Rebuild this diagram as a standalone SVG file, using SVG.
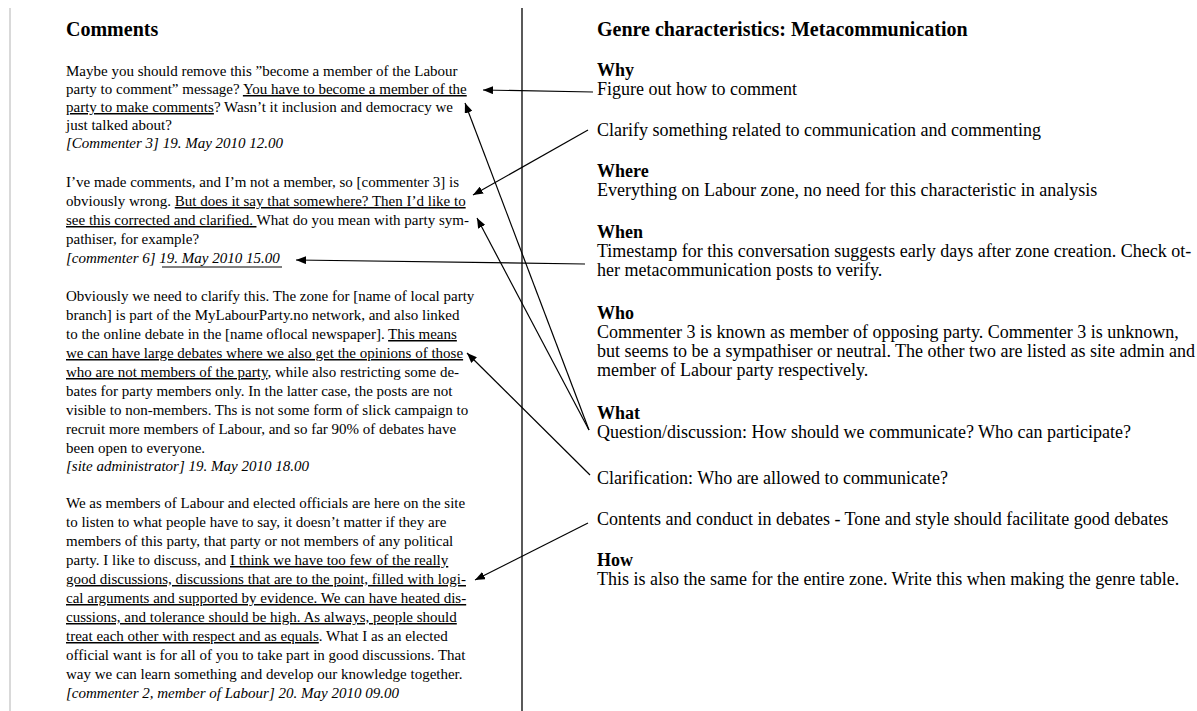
<svg xmlns="http://www.w3.org/2000/svg" width="1197" height="711" viewBox="0 0 1197 711">
  <style>
    text { font-family: "Liberation Serif", "Times New Roman", serif; fill: #000; }
    .h { font-size: 20px; font-weight: bold; }
    .c { font-size: 15px; }
    .ci { font-size: 15px; font-style: italic; }
    .r { font-size: 18px; }
    .rb { font-size: 18px; font-weight: bold; }
    .u { text-decoration: underline; }
    .conn { stroke: #000; stroke-width: 1.2; fill: none; marker-end: url(#tip); }
  </style>
  <defs>
    <marker id="tip" markerUnits="userSpaceOnUse" markerWidth="11" markerHeight="8" refX="10" refY="4" orient="auto">
      <path d="M0,0 L10,4 L0,8 Z" fill="#000"/>
    </marker>
  </defs>
  <rect width="1197" height="711" fill="#fff"/>

  <!-- page rules -->
  <g id="rules">
    <line x1="10" y1="8" x2="10" y2="711" stroke="#c0c0c0" stroke-width="1.2"/>
    <line x1="522" y1="8" x2="522" y2="711" stroke="#000" stroke-width="1.3"/>
  </g>

  <!-- left column: the comment thread -->
  <g id="comments-heading"><text class="h" x="66" y="36">Comments</text></g>

  <g id="comment-1">
    <text class="c" x="66" y="76">Maybe you should remove this ”become a member of the Labour</text>
    <text class="c" x="66" y="94">party to comment” message? <tspan class="u">You have to become a member of the</tspan></text>
    <text class="c" x="66" y="112"><tspan class="u">party to make comments</tspan>? Wasn’t it inclusion and democracy we</text>
    <text class="c" x="66" y="130">just talked about?</text>
    <text class="ci" x="66" y="148">[Commenter 3]  19. May 2010 12.00</text>
  </g>

  <g id="comment-2">
    <text class="c" x="66" y="187">I’ve made comments, and I’m not a member, so [commenter 3] is</text>
    <text class="c" x="66" y="206">obviously wrong. <tspan class="u">But does it say that somewhere? Then I’d like to</tspan></text>
    <text class="c" x="66" y="225"><tspan class="u">see this corrected and clarified. </tspan>What do you mean with party sym-</text>
    <text class="c" x="66" y="244">pathiser, for example?</text>
    <text class="ci" x="66" y="263">[commenter 6] 19. May 2010 15.00</text>
    <line x1="162" y1="267" x2="282" y2="267" stroke="#000" stroke-width="1"/>
  </g>

  <g id="comment-3">
    <text class="c" x="66" y="301">Obviously we need to clarify this. The zone for [name of local party</text>
    <text class="c" x="66" y="320">branch] is part of the MyLabourParty.no network, and also linked</text>
    <text class="c" x="66" y="339">to the online debate in the [name oflocal newspaper]. <tspan class="u">This means</tspan></text>
    <text class="c" x="66" y="358"><tspan class="u">we can have large debates where we also get the opinions of those</tspan></text>
    <text class="c" x="66" y="377"><tspan class="u">who are not members of the party</tspan>, while also restricting some de-</text>
    <text class="c" x="66" y="396">bates for party members only. In the latter case, the posts are not</text>
    <text class="c" x="66" y="415">visible to non-members. Ths is not some form of slick campaign to</text>
    <text class="c" x="66" y="434">recruit more members of Labour, and so far 90% of debates have</text>
    <text class="c" x="66" y="453">been open to everyone.</text>
    <text class="ci" x="66" y="471">[site administrator] 19. May 2010 18.00</text>
  </g>

  <g id="comment-4">
    <text class="c" x="66" y="508">We as members of Labour and elected officials are here on the site</text>
    <text class="c" x="66" y="527">to listen to what people have to say, it doesn’t matter if they are</text>
    <text class="c" x="66" y="546">members of this party, that party or not members of any political</text>
    <text class="c" x="66" y="565">party. I like to discuss, and <tspan class="u">I think we have too few of the really</tspan></text>
    <text class="c" x="66" y="584"><tspan class="u">good discussions, discussions that are to the point, filled with logi-</tspan></text>
    <text class="c" x="66" y="603"><tspan class="u">cal arguments and supported by evidence. We can have heated dis-</tspan></text>
    <text class="c" x="66" y="622"><tspan class="u">cussions, and tolerance should be high. As always, people should</tspan></text>
    <text class="c" x="66" y="641"><tspan class="u">treat each other with respect and as equals</tspan>. What I as an elected</text>
    <text class="c" x="66" y="660">official want is for all of you to take part in good discussions. That</text>
    <text class="c" x="66" y="679">way we can learn something and develop our knowledge together.</text>
    <text class="ci" x="66" y="698">[commenter 2, member of Labour] 20. May 2010 09.00</text>
  </g>

  <!-- right column: genre characteristics -->
  <g id="genre-heading"><text class="h" x="597" y="36">Genre characteristics: Metacommunication</text></g>

  <g id="why">
    <text class="rb" x="597" y="76">Why</text>
    <text class="r" x="597" y="95">Figure out how to comment</text>
  </g>
  <g id="why-clarify">
    <text class="r" x="597" y="136">Clarify something related to communication and commenting</text>
  </g>

  <g id="where">
    <text class="rb" x="597" y="177">Where</text>
    <text class="r" x="597" y="196">Everything on Labour zone, no need for this characteristic in analysis</text>
  </g>

  <g id="when">
    <text class="rb" x="597" y="238">When</text>
    <text class="r" x="597" y="257">Timestamp for this conversation suggests early days after zone creation. Check ot-</text>
    <text class="r" x="597" y="276">her metacommunication posts to verify.</text>
  </g>

  <g id="who">
    <text class="rb" x="597" y="319">Who</text>
    <text class="r" x="597" y="338">Commenter 3 is known as member of opposing party. Commenter 3 is unknown,</text>
    <text class="r" x="597" y="357">but seems to be a sympathiser or neutral. The other two are listed as site admin and</text>
    <text class="r" x="597" y="376">member of Labour party respectively.</text>
  </g>

  <g id="what">
    <text class="rb" x="597" y="419">What</text>
    <text class="r" x="597" y="438">Question/discussion: How should we communicate? Who can participate?</text>
  </g>
  <g id="what-clarification">
    <text class="r" x="597" y="484">Clarification: Who are allowed to communicate?</text>
  </g>
  <g id="what-contents">
    <text class="r" x="597" y="525">Contents and conduct in debates - Tone and style should facilitate good debates</text>
  </g>

  <g id="how">
    <text class="rb" x="597" y="566">How</text>
    <text class="r" x="597" y="585">This is also the same for the entire zone. Write this when making the genre table.</text>
  </g>

  <!-- connectors: each characteristic points at the passage it was read from -->
  <g id="connectors">
    <line class="conn" x1="593" y1="92" x2="483" y2="90"/>
    <line class="conn" x1="588" y1="130" x2="473" y2="195"/>
    <line class="conn" x1="585" y1="264" x2="296" y2="260"/>
    <line class="conn" x1="589" y1="430" x2="465" y2="103"/>
    <line class="conn" x1="589" y1="430" x2="477" y2="218"/>
    <line class="conn" x1="590" y1="475" x2="467" y2="353"/>
    <line class="conn" x1="588" y1="523" x2="475" y2="580"/>
  </g>
</svg>
